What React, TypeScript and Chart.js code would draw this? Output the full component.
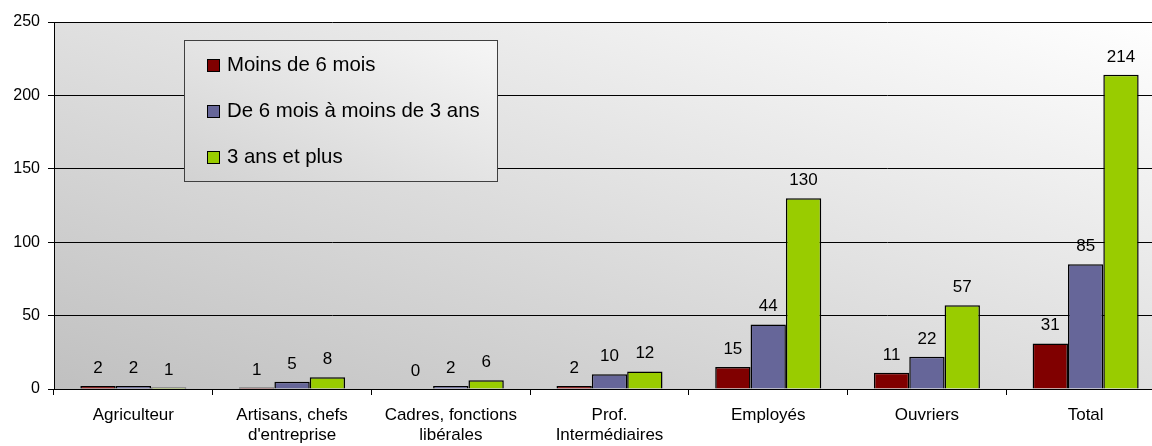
import React, { useEffect, useRef } from "react";
import { Chart, registerables } from "chart.js";

Chart.register(...registerables);

const categories: (string | string[])[] = [
  "Agriculteur",
  ["Artisans, chefs", "d'entreprise"],
  ["Cadres, fonctions", "libérales"],
  ["Prof.", "Intermédiaires"],
  "Employés",
  "Ouvriers",
  "Total",
];
const seriesLabels = ["Moins de 6 mois", "De 6 mois à moins de 3 ans", "3 ans et plus"];
const moinsDe6Mois = [2, 1, 0, 2, 15, 11, 31];
const de6MoisA3Ans = [2, 5, 2, 10, 44, 22, 85];
const troisAnsEtPlus = [1, 8, 6, 12, 130, 57, 214];
const seriesColors = ["#800000", "#666699", "#99CC00"];
const yTicks = [0, 50, 100, 150, 200, 250];

const FONT = "'Liberation Sans', Arial, Helvetica, sans-serif";

const backgroundPlugin = {
  id: "plotBackground",
  beforeDraw(chart: any) {
    const { ctx, chartArea: a } = chart;
    ctx.save();
    ctx.translate(a.left, a.top);
    ctx.scale(a.right - a.left, a.bottom - a.top);
    const g = ctx.createLinearGradient(0, 1, 1, 0);
    g.addColorStop(0, "#C0C0C0");
    g.addColorStop(1, "#FFFFFF");
    ctx.fillStyle = g;
    ctx.fillRect(0, 0, 1, 1);
    ctx.restore();
  },
};

const valueLabelPlugin = {
  id: "valueLabels",
  afterDatasetsDraw(chart: any) {
    const { ctx } = chart;
    ctx.save();
    ctx.font = `17px ${FONT}`;
    ctx.fillStyle = "#000";
    ctx.textAlign = "center";
    ctx.textBaseline = "alphabetic";
    chart.data.datasets.forEach((ds: any, i: number) => {
      const meta = chart.getDatasetMeta(i);
      meta.data.forEach((bar: any, j: number) => {
        ctx.fillText(String(ds.data[j]), bar.x, bar.y - 13);
      });
    });
    ctx.restore();
  },
};

const boxLegendPlugin = {
  id: "boxLegend",
  afterDraw(chart: any, _args: any, opts: any) {
    const { ctx } = chart;
    const { x, y, w, h } = opts;
    ctx.save();
    ctx.translate(x, y);
    ctx.save();
    ctx.scale(w, h);
    const g = ctx.createLinearGradient(0, 1, 1, 0);
    g.addColorStop(0, "#D2D2D2");
    g.addColorStop(1, "#F6F6F6");
    ctx.fillStyle = g;
    ctx.fillRect(0, 0, 1, 1);
    ctx.restore();
    ctx.strokeStyle = "#404040";
    ctx.lineWidth = 1;
    ctx.strokeRect(0.5, 0.5, w, h);
    ctx.font = `20.4px ${FONT}`;
    ctx.textBaseline = "middle";
    ctx.textAlign = "left";
    chart.data.datasets.forEach((ds: any, i: number) => {
      const cy = 25 + i * 46;
      ctx.fillStyle = ds.backgroundColor;
      ctx.fillRect(23, cy - 6, 13, 13);
      ctx.strokeStyle = "#000";
      ctx.strokeRect(23.5, cy - 5.5, 12, 12);
      ctx.fillStyle = "#000";
      ctx.fillText(ds.label, 43, cy);
    });
    ctx.restore();
  },
};

export default function App() {
  const ref = useRef<HTMLCanvasElement>(null);

  useEffect(() => {
    if (!ref.current) return;
    const series = [moinsDe6Mois, de6MoisA3Ans, troisAnsEtPlus];
    const chart = new Chart(ref.current, {
      type: "bar",
      data: {
        labels: categories as any,
        datasets: series.map((d, i) => ({
          label: seriesLabels[i],
          data: d,
          backgroundColor: seriesColors[i],
          borderColor: "#000000",
          borderWidth: 1.5,
          barPercentage: 1,
          categoryPercentage: 0.668,
        })),
      },
      options: {
        animation: false,
        responsive: false,
        devicePixelRatio: 1,
        layout: { padding: { left: 0, top: 22, right: 5, bottom: 0 } },
        plugins: {
          legend: { display: false },
          tooltip: { enabled: false },
          boxLegend: { x: 184, y: 40, w: 313, h: 141 },
        } as any,
        scales: {
          x: {
            grid: {
              display: true,
              drawOnChartArea: false,
              drawTicks: true,
              tickLength: 6,
              color: "#000",
              offset: true,
            },
            border: { display: true, color: "#000", width: 1 },
            ticks: {
              color: "#000",
              font: { family: FONT, size: 17 },
              padding: 10,
              maxRotation: 0,
              autoSkip: false,
            },
            afterFit: (s: any) => {
              s.height = 57;
            },
          },
          y: {
            min: 0,
            max: 250,
            afterBuildTicks: (s: any) => {
              s.ticks = yTicks.map((v) => ({ value: v }));
            },
            grid: { color: "#000", tickLength: 6, lineWidth: 1 },
            border: { display: true, color: "#000", width: 1 },
            ticks: {
              color: "#000",
              font: { family: FONT, size: 16 },
              padding: 8,
            },
            afterFit: (s: any) => {
              s.width = 54;
            },
          },
        },
      },
      plugins: [backgroundPlugin, valueLabelPlugin, boxLegendPlugin],
    });
    return () => chart.destroy();
  }, []);

  return (
    <div
      style={{
        position: "fixed",
        left: 0,
        top: 0,
        width: 1152,
        height: 446,
        overflow: "hidden",
        background: "#fff",
      }}
    >
      <canvas ref={ref} width={1170} height={446} style={{ display: "block" }} />
    </div>
  );
}
